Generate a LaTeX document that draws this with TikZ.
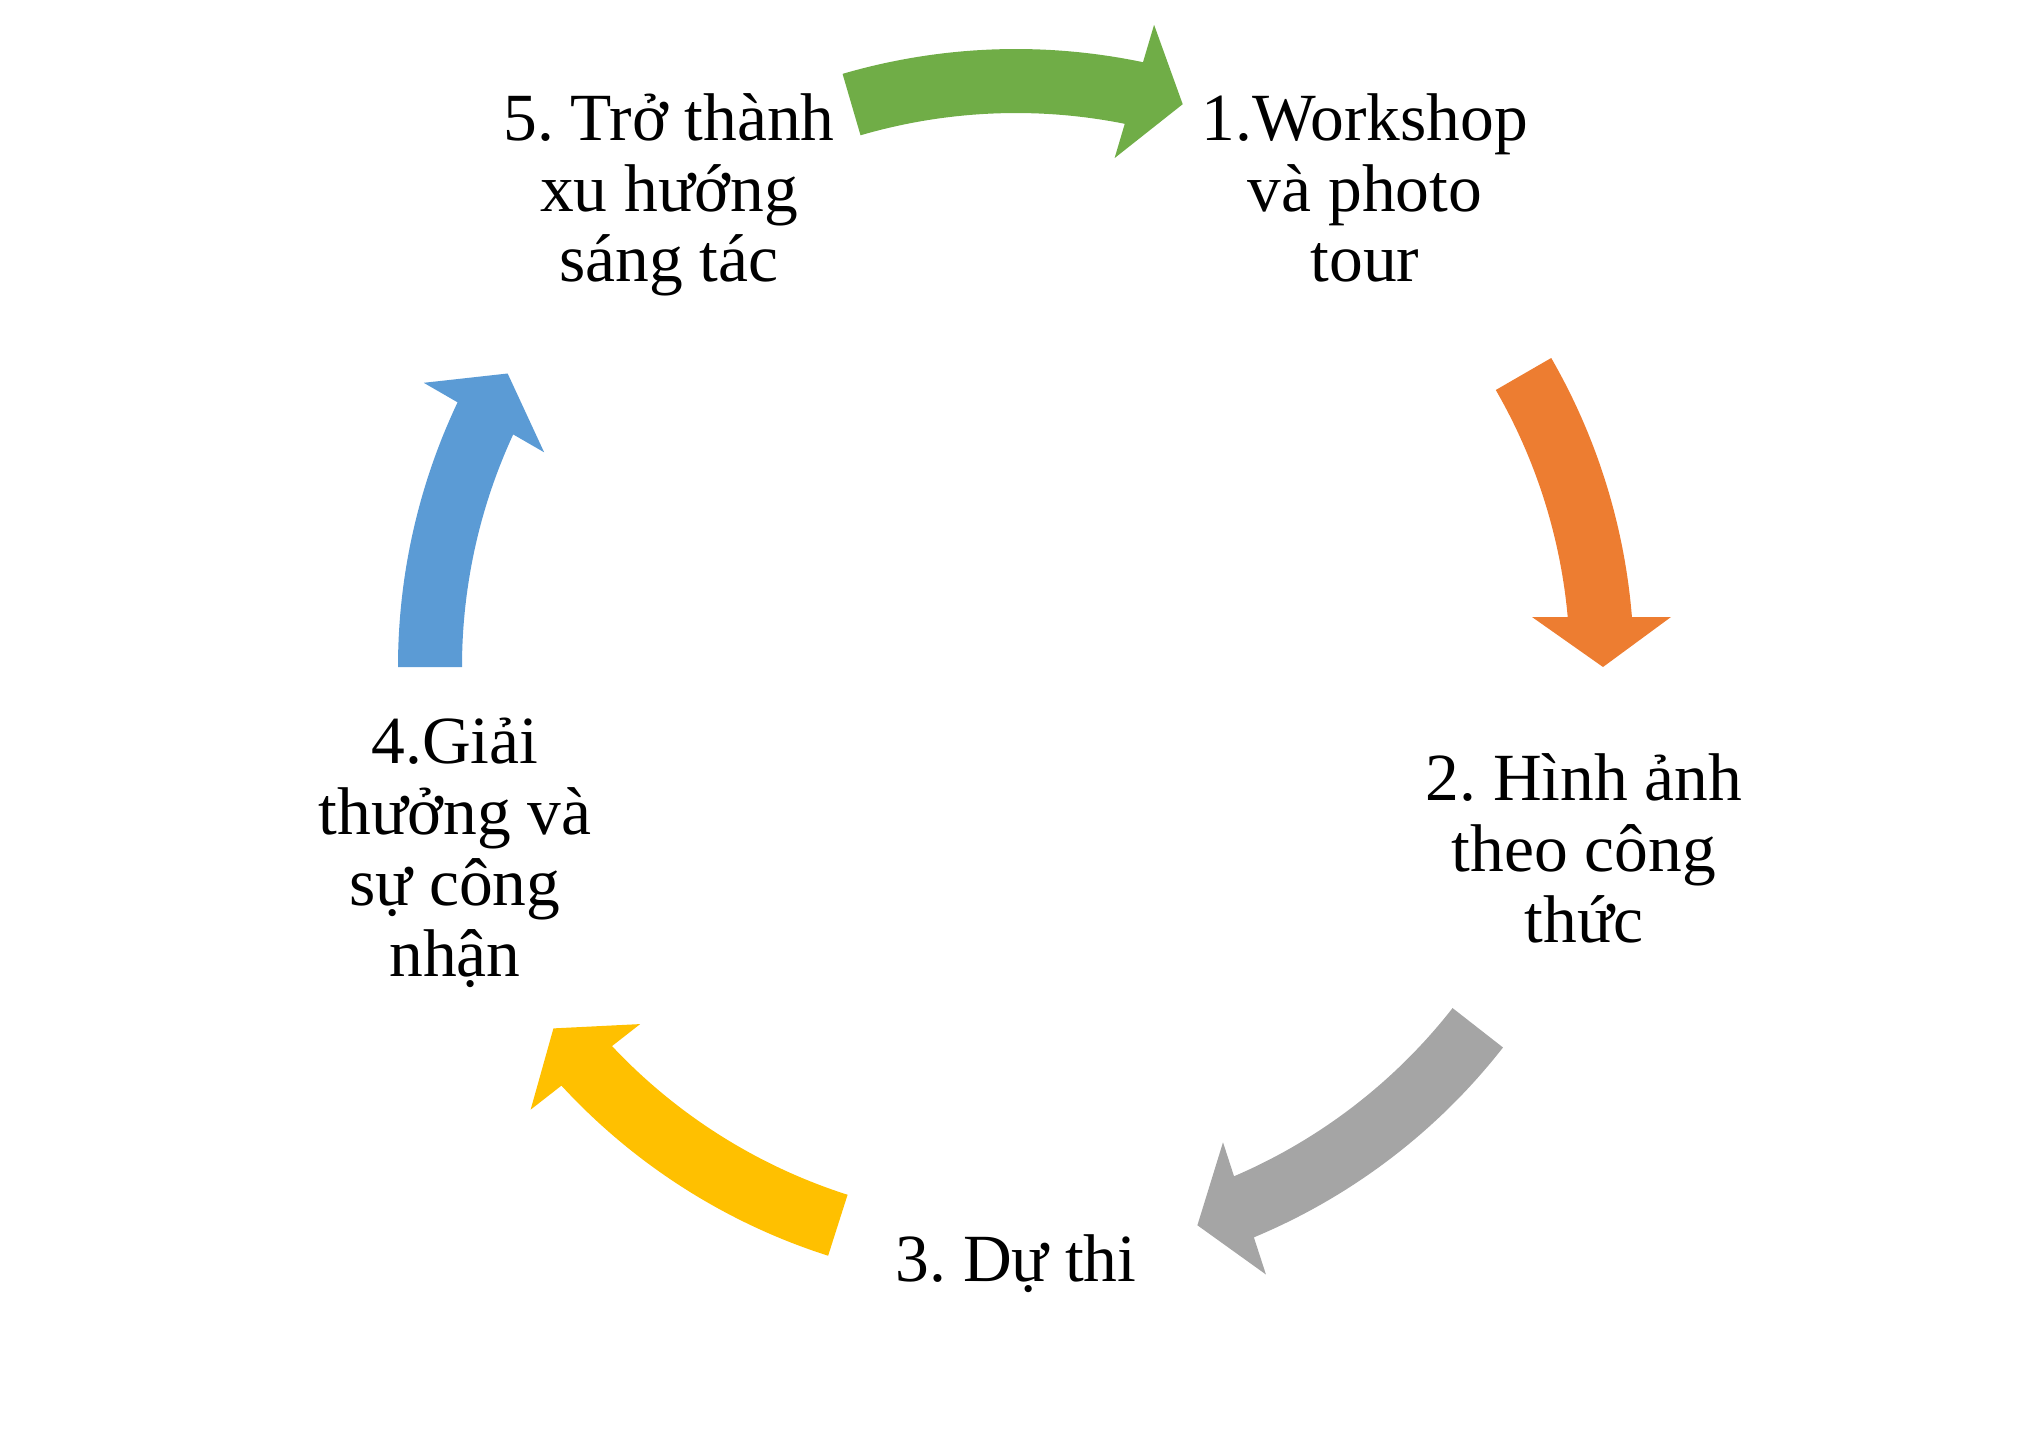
\documentclass[tikz,border=0pt]{standalone}
\usepackage{fontspec}
\setmainfont{Liberation Serif}
\usepackage{tikz}
\usetikzlibrary{calc, positioning}
\definecolor{arrGreen}{HTML}{70AD47}
\definecolor{arrOrange}{HTML}{ED7D31}
\definecolor{arrGray}{HTML}{A5A5A5}
\definecolor{arrYellow}{HTML}{FFC000}
\definecolor{arrBlue}{HTML}{5B9BD5}
\frenchspacing

\begin{document}
\begin{tikzpicture}[
    stage/.style={align=center, inner sep=0pt, anchor=base,
                  font=\fontsize{19.2}{20.2}\selectfont},
]
    \useasboundingbox (0,0) rectangle (20.34,14.39);
    \coordinate (centre) at (10.16,7.72);

    % anchor=base is the baseline of the last line
    \node[stage] (s1) at (13.65,11.57) {1.Workshop\\và photo\\tour};
    \node[stage] (s2) at (15.84,4.97)  {2. Hình ảnh\\theo công\\thức};
    \node[stage] (s3) at (10.16,1.58)  {3. Dự thi};
    \node[stage] (s4) at (4.55,4.63)   {4.Giải\\thưởng và\\sự công\\nhận};
    \node[stage] (s5) at (6.69,11.57)  {5. Trở thành\\xu hướng\\sáng tác};

    % thick curved arrows round the cycle, head base parallel to the tip radius
    \foreach \col/\from/\to in {arrGreen/106.3/73.5, arrOrange/30/0,
                                arrGray/-38/-72, arrYellow/252.3/218,
                                arrBlue/180/150} {
        \pgfmathsetmacro\ho{\to+asin(0.5/6.18)}
        \pgfmathsetmacro\hi{\to+asin(0.5/5.54)}
        \fill[\col] ($(centre)+(\from:6.18)$)
            arc[start angle=\from, end angle=\ho, radius=6.18]
            -- ($(centre)+(\to:6.55)+(\to+90:0.5)$)
            -- ($(centre)+(\to:5.87)$)
            -- ($(centre)+(\to:5.16)+(\to+90:0.5)$)
            -- ($(centre)+(\hi:5.54)$)
            arc[start angle=\hi, end angle=\from, radius=5.54] -- cycle;
    }
\end{tikzpicture}
\end{document}
